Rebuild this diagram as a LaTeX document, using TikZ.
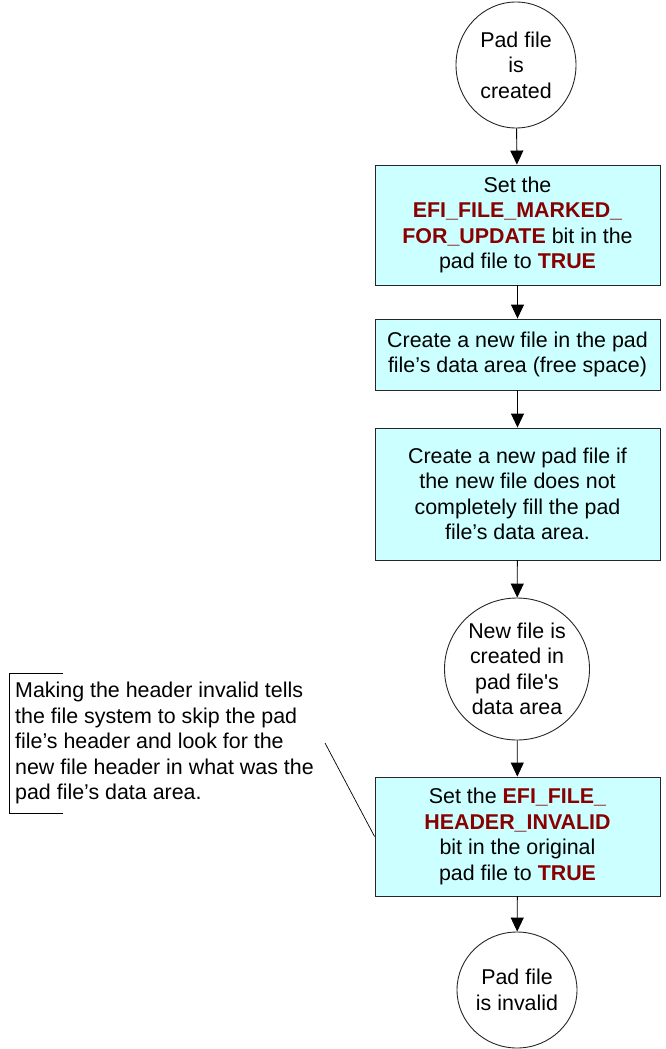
\documentclass[tikz,border=0pt]{standalone}
\usepackage{fontspec}
\setmainfont{Liberation Sans}
\usetikzlibrary{arrows.meta,shapes.geometric}
\definecolor{boxfill}{HTML}{CCFFFF}
\definecolor{keyred}{HTML}{880000}
\newcommand{\kw}[1]{\textbf{\color{keyred}#1}}
\tikzset{
  every node/.style={font=\fontsize{21.4}{25.5}\selectfont},
  stepbox/.style={draw=black!85, line width=0.9pt, fill=boxfill, rectangle,
    minimum width=285pt, inner sep=0pt, align=center},
  terminal/.style={draw=black!85, line width=0.9pt, fill=white, ellipse,
    inner sep=0pt, align=center},
  flow/.style={line width=0.9pt, -{Triangle[length=14pt,width=13pt]}},
  thin line/.style={line width=0.7pt}
}
\begin{document}
\begin{tikzpicture}[x=1pt,y=-1pt]
\useasboundingbox (0,0) rectangle (665,1049);

\node[terminal, minimum width=120pt, minimum height=126pt] (start) at (516,65)
  {Pad file\\is\\created};
\node[stepbox, minimum height=120pt] (mark) at (517.5,225)
  {Set the\\\kw{EFI\_FILE\_MARKED\_}\\\kw{FOR\_UPDATE} bit in the\\pad file to \kw{TRUE}};
\node[stepbox, minimum height=71pt] (create) at (517.5,354.5)
  {Create a new file in the pad\\file’s data area (free space)};
\node[stepbox, minimum height=132pt] (newpad) at (517.5,494)
  {Create a new pad file if\\the new file does not\\completely fill the pad\\file’s data area.};
\node[terminal, minimum width=145pt, minimum height=142pt] (created) at (517,669)
  {New file is\\created in\\pad file\textquotesingle s\\data area};
\node[stepbox, minimum height=119pt] (invalid) at (517.5,836.5)
  {Set the \kw{EFI\_FILE\_}\\\kw{HEADER\_INVALID}\\bit in the original\\pad file to \kw{TRUE}};
\node[terminal, minimum width=120pt, minimum height=116pt] (done) at (517,990)
  {Pad file\\is invalid};

\draw[flow] (start) -- (mark);
\draw[flow] (mark) -- (create);
\draw[flow] (create) -- (newpad);
\draw[flow] (newpad) -- (created);
\draw[flow] (created) -- (invalid);
\draw[flow] (invalid) -- (done);

% annotation with its open bracket and leader line
\node[anchor=west, align=left, inner sep=0pt] (note) at (15,743)
  {Making the header invalid tells\\the file system to skip the pad\\file’s header and look for the\\new file header in what was the\\pad file’s data area.};
\coordinate (brtop) at (63,673);
\coordinate (brbot) at (63,813);
\draw[thin line] (brtop) -- (9,673) -- (9,813) -- (brbot);
\coordinate (leader) at (325,743);
\draw[thin line] (leader) -- (invalid.west);
\end{tikzpicture}
\end{document}
